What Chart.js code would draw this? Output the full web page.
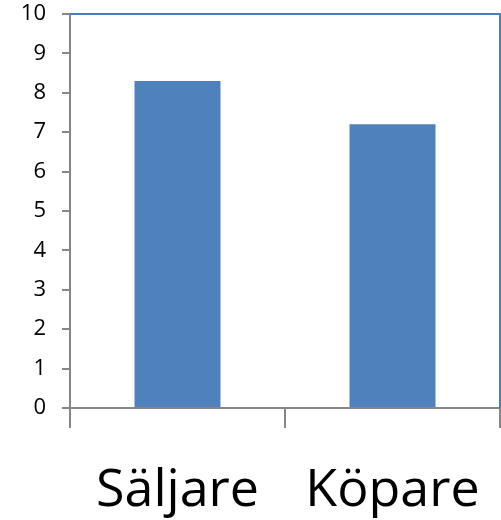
<!DOCTYPE html>
<html>
<head>
<meta charset="utf-8">
<script src="https://cdn.jsdelivr.net/npm/chart.js@4"></script>
<style>
  html, body { margin: 0; padding: 0; background: #fff; }
  #wrap { width: 501px; height: 520px; }
</style>
</head>
<body>
<div id="wrap"><canvas id="chart"></canvas></div>
<script>
const categories = ['Säljare', 'Köpare'];
const values = [8.3, 7.2];
const yTicks = [0, 1, 2, 3, 4, 5, 6, 7, 8, 9, 10];

// blue frame on top and right of plot area
const frame = {
  id: 'frame',
  afterDatasetsDraw(chart) {
    const {ctx, chartArea: a} = chart;
    ctx.save();
    ctx.strokeStyle = '#4a7ebb';
    ctx.lineWidth = 2;
    ctx.beginPath();
    ctx.moveTo(a.left, a.top);
    ctx.lineTo(a.right, a.top);
    ctx.lineTo(a.right, a.bottom);
    ctx.stroke();
    ctx.restore();
  }
};

function noPad(s) {
  s.paddingTop = 0; s.paddingBottom = 0; s.paddingLeft = 0; s.paddingRight = 0;
}

new Chart(document.getElementById('chart'), {
  type: 'bar',
  data: {
    labels: categories,
    datasets: [{
      data: values,
      backgroundColor: '#4f81bd',
      borderWidth: 0,
      barPercentage: 0.4,
      categoryPercentage: 1
    }]
  },
  options: {
    responsive: true,
    maintainAspectRatio: false,
    animation: false,
    layout: { padding: { top: 14, right: 1, left: 0, bottom: 0 } },
    plugins: { legend: { display: false }, tooltip: { enabled: false } },
    scales: {
      x: {
        grid: { drawOnChartArea: false, tickLength: 20, color: '#868686', lineWidth: 2, offset: true },
        border: { color: '#868686', width: 2 },
        ticks: { color: '#000', padding: 32, font: { family: '"Open Sans"', size: 52 }, maxRotation: 0 },
        afterFit(s) { s.height = 112; noPad(s); }
      },
      y: {
        min: 0,
        max: 10,
        afterBuildTicks(s) { s.ticks = yTicks.map(v => ({value: v})); },
        grid: { drawOnChartArea: false, tickLength: 8, color: '#868686', lineWidth: 2 },
        border: { color: '#868686', width: 2 },
        ticks: { color: '#000', padding: 16, font: { family: '"Open Sans"', size: 22 } },
        afterFit(s) { s.width = 70; noPad(s); }
      }
    }
  },
  plugins: [frame]
});
</script>
</body>
</html>
